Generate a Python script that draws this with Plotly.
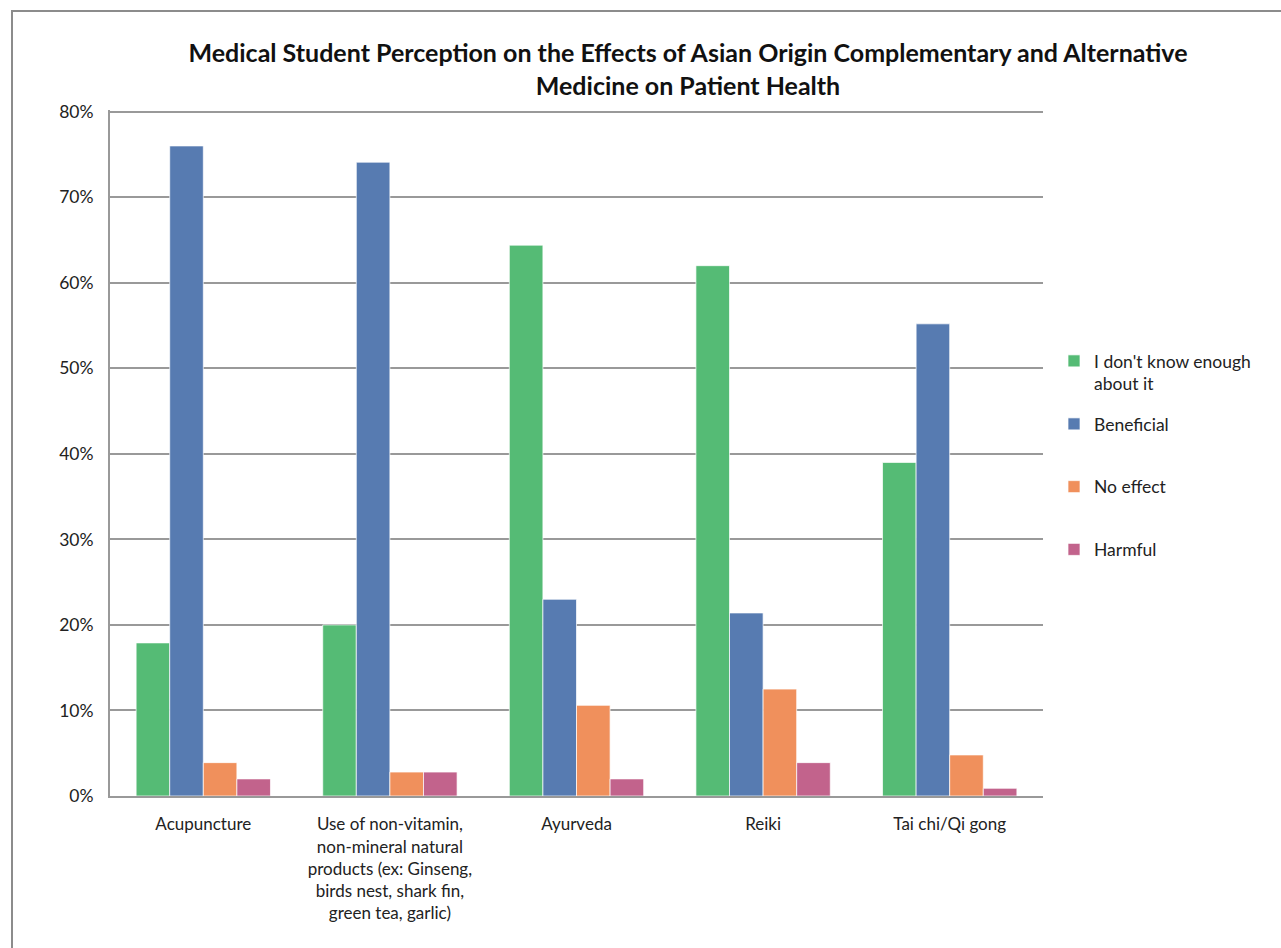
import plotly.graph_objects as go

categories = [
    "Acupuncture",
    "Use of non-vitamin,<br>non-mineral natural<br>products (ex: Ginseng,<br>birds nest, shark fin,<br>green tea, garlic)",
    "Ayurveda",
    "Reiki",
    "Tai chi/Qi gong",
]
series_names = ["I don't know enough<br>about it", "Beneficial", "No effect", "Harmful"]
dont_know = [0.179, 0.200, 0.644, 0.620, 0.390]
beneficial = [0.760, 0.741, 0.230, 0.214, 0.552]
no_effect = [0.039, 0.028, 0.106, 0.125, 0.048]
harmful = [0.020, 0.028, 0.020, 0.039, 0.009]
colors = ["#55BB75", "#577BB1", "#F0905C", "#C2638C"]
y_ticks = [0, 0.1, 0.2, 0.3, 0.4, 0.5, 0.6, 0.7, 0.8]
y_ticklabels = ["0%", "10%", "20%", "30%", "40%", "50%", "60%", "70%", "80%"]

FONT = "Lato, Open Sans, sans-serif"
YMAX = 0.802

fig = go.Figure()
for i, (name, vals) in enumerate(zip(series_names, [dont_know, beneficial, no_effect, harmful])):
    fig.add_trace(go.Bar(
        x=categories, y=vals, name=name, showlegend=True,
        marker=dict(color=colors[i], line=dict(color="rgba(255,255,255,0.7)", width=1)),
        legendgroup=f"g{i}",
        legend="legend" if i == 0 else "legend2",
    ))

W, H = 1281, 948
L, R, B = 110, 1043, 796
T = round(B - (B - 112) / 0.8 * YMAX)
pw = R - L
ph = B - T

def px(x):
    return (x - L) / pw

def py(y):
    return (B - y) / ph

legend_common = dict(
    xanchor="left", yanchor="top",
    font=dict(size=17.5, color="#222222", family=FONT),
    tracegroupgap=37, valign="top", itemwidth=30,
    bgcolor="rgba(0,0,0,0)", visible=True,
)

fig.update_layout(
    width=W, height=H,
    showlegend=True,
    margin=dict(l=L, r=W - R, t=T, b=H - B),
    paper_bgcolor="white", plot_bgcolor="white",
    barmode="group", bargap=0.28, bargroupgap=0,
    font=dict(family=FONT, color="#222222", size=17),
    title=dict(
        text="<b>Medical Student Perception on the Effects of Asian Origin Complementary and Alternative<br>Medicine on Patient Health</b>",
        x=688 / W, xanchor="center", y=1 - 62 / H, yanchor="top",
        font=dict(family=FONT, size=25, color="#111111"),
    ),
    xaxis=dict(
        showline=True, linecolor="#999999", linewidth=2,
        tickfont=dict(size=17, color="#222222"), ticks="", showgrid=False,
        ticklabelstandoff=12,
    ),
    yaxis=dict(
        range=[0, YMAX], tickvals=y_ticks, ticktext=y_ticklabels,
        showline=True, linecolor="#999999", linewidth=2,
        showgrid=True, gridcolor="#999999", gridwidth=2,
        tickfont=dict(size=17.5, color="#222222"), ticks="", zeroline=False,
        ticklabelstandoff=11,
    ),
    legend=dict(x=px(1054), y=py(343), **legend_common),
    legend2=dict(x=px(1054), y=py(406), **legend_common),
    shapes=[dict(
        type="rect", xref="paper", yref="paper",
        x0=px(12), x1=px(1290), y0=py(960), y1=py(11),
        line=dict(color="#8c8c8c", width=2), fillcolor="rgba(0,0,0,0)", layer="below",
    )],
)

fig.write_html("out.html")
